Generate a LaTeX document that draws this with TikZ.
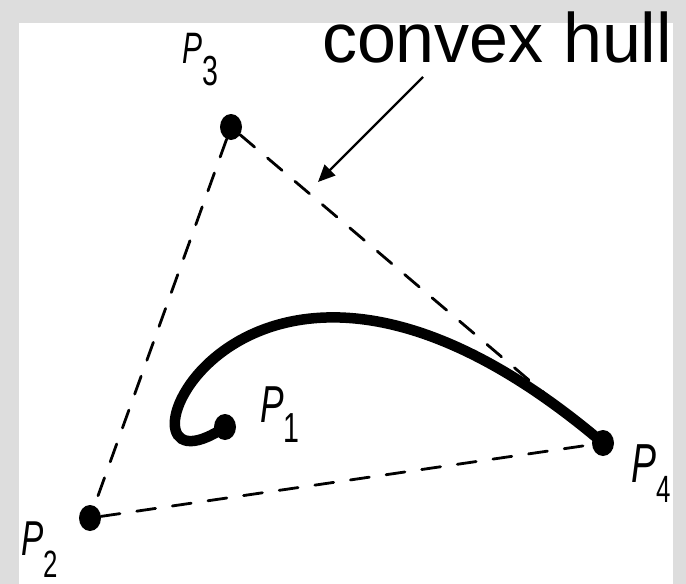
\documentclass[tikz,border=0pt]{standalone}
\usepackage{fontspec}
\setmainfont{Liberation Sans}
\usetikzlibrary{shapes.geometric,arrows.meta}
\definecolor{bggray}{RGB}{221,221,221}
\newcommand{\plabel}[4]{\scalebox{0.68}[1]{\fontsize{#1}{#1}\selectfont\itshape P\upshape\kern0.5pt\raisebox{-#4pt}{\fontsize{#2}{#2}\selectfont #3}}}
\tikzset{
  dot/.style={ellipse, fill=black, inner sep=0pt, minimum width=22pt, minimum height=26pt},
  hull/.style={line width=2.8pt, line cap=round, dash pattern=on 19pt off 17pt},
  curveline/.style={line width=10.5pt, line cap=round},
  lbl/.style={anchor=base west, inner sep=0pt, outer sep=0pt},
  pointer/.style={line width=2.2pt, -{Triangle[length=17pt,width=15pt]}}
}
\begin{document}
\begin{tikzpicture}[x=1pt,y=-1pt]
\useasboundingbox (0,0) rectangle (686,584);
\fill[bggray] (0,0) rectangle (686,584);
\fill[white] (19,23) rectangle (673,584);
% control points
\node[dot] (p1) at (225,427) {};
\node[dot] (p2) at (90,518) {};
\node[dot] (p3) at (231,127) {};
\node[dot] (p4) at (603,443) {};
% convex hull
\draw[hull] (p3) -- (p4);
\draw[hull] (p3) -- (p2);
\draw[hull] (p2) -- (p4);
% Bezier curve
\draw[curveline] (p1.center) .. controls (p2.center) and (p3.center) .. (p4.center);
% labels
\node[lbl] (l3) at (182,63) {\plabel{44}{42}{3}{22}};
\node[lbl] (l1) at (260,422) {\plabel{52}{42}{1}{20}};
\node[lbl] (l2) at (21,555) {\plabel{49}{38}{2}{22}};
\node[lbl] (l4) at (631,482) {\plabel{55}{38}{4}{20}};
% convex hull label and arrow
\node[lbl, font=\fontsize{70}{70}\selectfont] (ch) at (322,62) {convex hull};
\coordinate (arrS) at (423,77);
\coordinate (arrE) at (318,182);
\draw[pointer] (arrS) -- (arrE);
\end{tikzpicture}
\end{document}
